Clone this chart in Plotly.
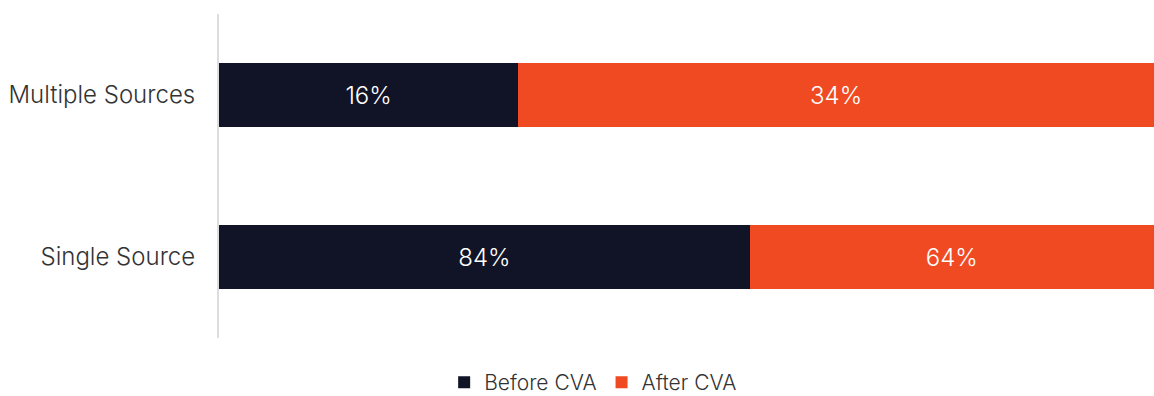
import plotly.graph_objects as go

categories = ["Single Source", "Multiple Sources"]
before_cva = [84, 16]
after_cva = [64, 34]

DARK = "#111326"
ORANGE = "#F04A23"
FONT = "Inter"
TEXT = "#333333"

fig = go.Figure()
fig.add_trace(go.Bar(
    y=categories, x=before_cva, orientation="h", name="Before CVA",
    marker=dict(color=DARK, line=dict(width=0)),
    text=[f"{v}%" for v in before_cva], textposition="inside",
    insidetextanchor="middle",
    textfont=dict(color="white", size=24, family=FONT, weight=300),
    hoverinfo="skip",
))
fig.add_trace(go.Bar(
    y=categories, x=after_cva, orientation="h", name="After CVA",
    marker=dict(color=ORANGE, line=dict(width=0)),
    text=[f"{v}%" for v in after_cva], textposition="inside",
    insidetextanchor="middle",
    textfont=dict(color="white", size=24, family=FONT, weight=300),
    hoverinfo="skip",
))

fig.update_layout(
    barmode="stack", barnorm="percent", bargap=0.6,
    width=1154, height=396,
    margin=dict(l=219, r=0, t=14, b=58),
    paper_bgcolor="white", plot_bgcolor="white",
    font=dict(family=FONT, size=22, color=TEXT, weight=300),
    showlegend=True,
    legend=dict(orientation="h", xref="container", yref="container",
                x=0.514, xanchor="center", y=0.034, yanchor="middle",
                font=dict(size=21, color=TEXT, family=FONT, weight=300),
                itemwidth=30, traceorder="normal"),
    uniformtext=dict(mode="show", minsize=12),
)
fig.update_xaxes(range=[0, 100], visible=False, showgrid=False, zeroline=False)
fig.update_yaxes(showline=True, linecolor="#dddddd", linewidth=2, showgrid=False,
                 zeroline=False, ticks="", ticklabelstandoff=17,
                 tickfont=dict(size=24, color=TEXT, family=FONT, weight=300))

fig.write_html("out.html")
